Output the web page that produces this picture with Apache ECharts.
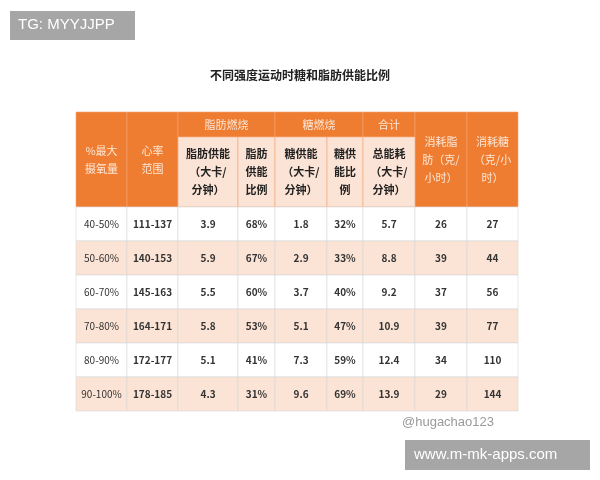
<!DOCTYPE html><html><head><meta charset="utf-8"><script src="https://cdn.jsdelivr.net/npm/echarts@6/dist/echarts.min.js"></script>
<style>body{margin:0}#c{width:600px;height:480px}</style></head><body><div id="c"></div><script>
const intensity=['40-50%','50-60%','60-70%','70-80%','80-90%','90-100%'];
const heartRate=['111-137','140-153','145-163','164-171','172-177','178-185'];
const fatKcal=['3.9','5.9','5.5','5.8','5.1','4.3'];
const fatPct=['68%','67%','60%','53%','41%','31%'];
const sugarKcal=['1.8','2.9','3.7','5.1','7.3','9.6'];
const sugarPct=['32%','33%','40%','47%','59%','69%'];
const totalKcal=['5.7','8.8','9.2','10.9','12.4','13.9'];
const fatGram=['26','39','37','39','34','29'];
const sugarGram=['27','44','56','77','110','144'];
const colW=[51,51,60,37,52,36,52,52,51];
const cols=[intensity,heartRate,fatKcal,fatPct,sugarKcal,sugarPct,totalKcal,fatGram,sugarGram];
const edges=[0];colW.forEach(w=>edges.push(edges[edges.length-1]+w));
const data=[];
cols.forEach((c,ci)=>c.forEach((v,ri)=>data.push([ci,ri,v])));
const L=76,T=112,OR='#ee7d31',PALE='#fbe3d5',FT='"Noto Sans CJK SC",sans-serif';
const px=i=>L+edges[i];
const g=[];
function cell(x0,x1,y0,y1,fill,txt,color,bold){
 g.push({type:'rect',shape:{x:px(x0),y:y0,width:px(x1)-px(x0),height:y1-y0},style:{fill:fill,stroke:'#f3a676',lineWidth:0.6}});
 g.push({type:'text',x:(px(x0)+px(x1))/2,y:(y0+y1)/2,style:{text:txt,fill:color,font:(bold?'bold ':'')+'11px '+FT,align:'center',verticalAlign:'middle',lineHeight:18}});
}
const LT='#fde6d6';
cell(0,1,T,207,OR,'%最大\n摄氧量',LT);
cell(1,2,T,207,OR,'心率\n范围',LT);
cell(2,4,T,137,OR,'脂肪燃烧',LT);
cell(4,6,T,137,OR,'糖燃烧',LT);
cell(6,7,T,137,OR,'合计',LT);
cell(7,8,T,207,OR,'消耗脂\n肪（克/\n小时）',LT);
cell(8,9,T,207,OR,'消耗糖\n（克/小\n时）',LT);
cell(2,3,137,207,PALE,'脂肪供能\n（大卡/\n分钟）','#222',true);
cell(3,4,137,207,PALE,'脂肪\n供能\n比例','#222',true);
cell(4,5,137,207,PALE,'糖供能\n（大卡/\n分钟）','#222',true);
cell(5,6,137,207,PALE,'糖供\n能比\n例','#222',true);
cell(6,7,137,207,PALE,'总能耗\n（大卡/\n分钟）','#222',true);
g.push({type:'rect',shape:{x:10,y:11,width:125,height:29},style:{fill:'#a6a6a6'}});
g.push({type:'text',x:18,y:25,style:{text:'TG: MYYJJPP',fill:'#fff',font:'15px "Liberation Sans",sans-serif',verticalAlign:'middle'}});
g.push({type:'rect',shape:{x:405,y:440,width:185,height:30},style:{fill:'#a6a6a6'}});
g.push({type:'text',x:414,y:455,style:{text:'www.m-mk-apps.com',fill:'#fff',font:'15px "Liberation Sans",sans-serif',verticalAlign:'middle'}});
g.push({type:'text',x:402,y:422,style:{text:'@hugachao123',fill:'#9a9a9a',font:'13px "Liberation Sans",sans-serif',verticalAlign:'middle'}});
const chart=echarts.init(document.getElementById('c'));
chart.setOption({animation:false,
 title:{text:'不同强度运动时糖和脂肪供能比例',left:'center',top:64,textStyle:{fontSize:12,fontWeight:'bold',color:'#222',fontFamily:FT}},
 grid:{left:L,top:207,width:edges[9],height:204},
 xAxis:{type:'value',min:0,max:edges[9],show:false},
 yAxis:{type:'category',data:intensity,inverse:true,show:false},
 series:[{type:'custom',data:data,renderItem:(p,api)=>{
   const ci=api.value(0),ri=api.value(1);
   const a=api.coord([edges[ci],ri]),b=api.coord([edges[ci+1],ri]);
   const h=api.size([0,1])[1];
   return {type:'group',children:[
    {type:'rect',shape:{x:a[0],y:a[1]-h/2,width:b[0]-a[0],height:h},style:{fill:ri%2?PALE:'#fff',stroke:'#d9d9d9',lineWidth:0.6}},
    {type:'text',x:(a[0]+b[0])/2,y:a[1],style:{text:data[p.dataIndex][2],fill:'#333',font:(ci==0?'':'bold ')+'10px '+FT,align:'center',verticalAlign:'middle'}}]};
 }}],
 graphic:g});
</script></body></html>
